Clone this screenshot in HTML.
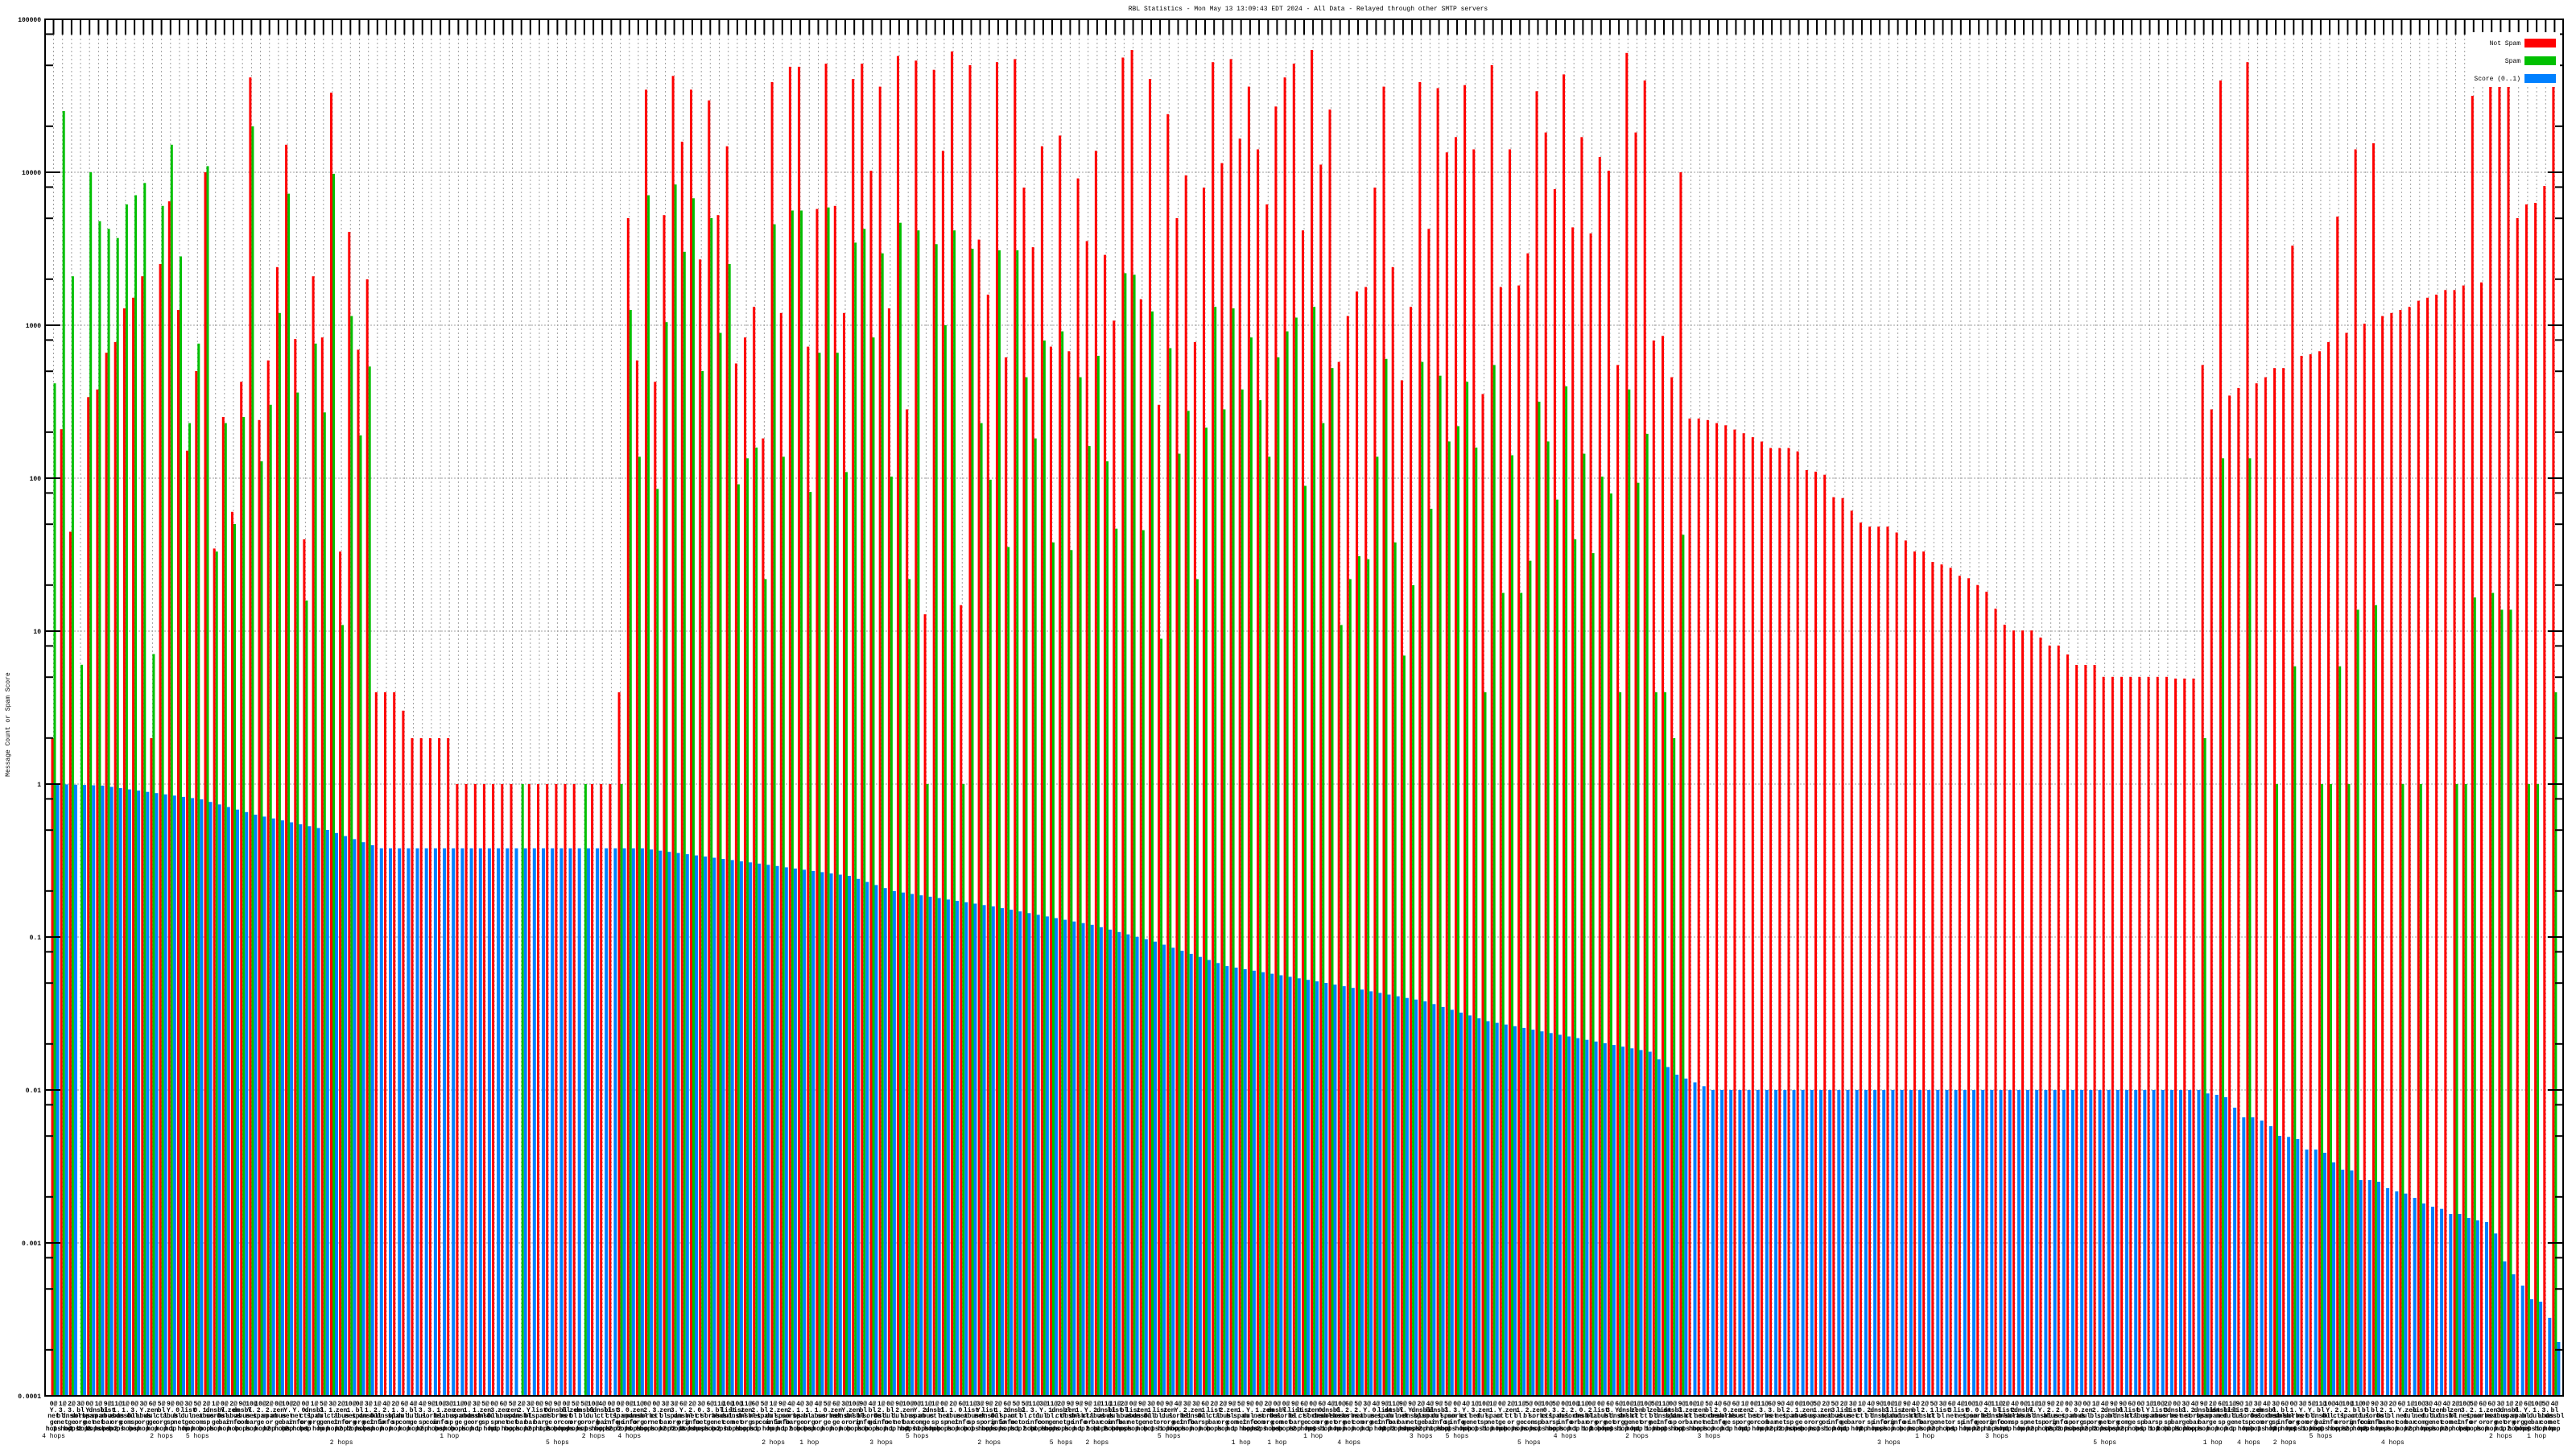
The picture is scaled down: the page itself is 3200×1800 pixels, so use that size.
<!DOCTYPE html>
<html><head><meta charset="utf-8"><style>
html,body{margin:0;padding:0;background:#fff;}
svg{display:block;}
text{font-family:"Liberation Mono","DejaVu Sans Mono",monospace;}
</style></head><body>
<svg id="c" xmlns="http://www.w3.org/2000/svg" width="3200" height="1800" viewBox="0 0 3200 1800">
<rect width="3200" height="1800" fill="#fff"/>
<text x="1625" y="13" font-size="8" text-anchor="middle">RBL Statistics - Mon May 13 13:09:43 EDT 2024 - All Data - Relayed through other SMTP servers</text>
<text transform="translate(12,900) rotate(-90)" font-size="8" text-anchor="middle">Message Count or Spam Score</text>
</svg>
<script>
(function(){
var svg=document.getElementById('c');
var L=56,R=3184,T=24,B=1734,D=190,N=279,C0=66.5,SP=11.176;
function Y(lg){return T+(5-lg)*D;}
var out=[];
for(var k=0;k<=9;k++){var y=T+k*D;out.push('<line x1="'+L+'" x2="'+R+'" y1="'+y+'" y2="'+y+'" stroke="#a0a0a0" stroke-dasharray="2,2"/>');}
for(var i=0;i<N;i++){var x=(C0+SP*i).toFixed(1);out.push('<line x1="'+x+'" x2="'+x+'" y1="'+(T+19)+'" y2="'+B+'" stroke="#a0a0a0" stroke-dasharray="2,3"/>');}
var red=[],grn=[];
var early=[[0.3,2.62],[2.32,4.4],[1.65,3.32],[null,0.78],[2.53,4],[2.58,3.68],[2.82,3.63],[2.89,3.57],[3.11,3.79],[3.18,3.85],[3.32,3.93],[0.3,0.85],[3.4,3.78],[3.81,4.18],[3.1,3.45],[2.18,2.36],[2.7,2.88],[4,4.04],[1.54,1.52],[2.4,2.36],[1.78,1.7],[2.63,2.4],[4.62,4.3],[2.38,2.11],[2.77,2.48],[3.38,3.08],[4.18,3.86],[2.91,2.56],[1.6,1.2],[3.32,2.88],[2.92,2.43],[4.52,3.99],[1.52,1.04],[3.61,3.06],[2.84,2.28],[3.3,2.73]];
for(i=0;i<36;i++){red[i]=early[i][0];grn[i]=early[i][1];}
for(i=36;i<=38;i++){red[i]=0.6;grn[i]=null;}
red[39]=0.48;grn[39]=null;
for(i=40;i<=44;i++){red[i]=0.3;grn[i]=null;}
for(i=45;i<=62;i++){red[i]=0;grn[i]=null;}
grn[52]=0;red[52]=null;grn[59]=0;red[59]=null;
red[63]=0.6;grn[63]=0;red[64]=3.7;grn[64]=3.1;red[65]=2.77;grn[65]=2.14;
var mid=[[4.54,3.85],[2.63,1.93],[3.72,3.02],[4.63,3.92],[4.2,3.48],[4.54,3.83],[3.43,2.7],[4.47,3.7],[3.72,2.95],[4.17,3.4],[2.75,1.96],[2.92,2.13],[3.12,2.2],[2.26,1.34],[4.59,3.66],[3.08,2.14],[4.69,3.75],[4.69,3.75],[2.86,1.91],[3.76,2.82],[4.71,3.77],[3.78,2.82],[3.08,2.04],[4.61,3.54],[4.71,3.63],[4.01,2.92],[4.56,3.47],[3.11,2.01],[4.76,3.67],[2.45,1.34],[4.73,3.62],[1.11,0],[4.67,3.53],[4.14,3.0],[4.79,3.62],[1.17,0],[4.7,3.5],[3.56,2.36],[3.2,1.99],[4.72,3.49],[2.79,1.55],[4.74,3.49],[3.9,2.66],[3.51,2.26],[4.17,2.9],[2.86,1.58],[4.24,2.96],[2.83,1.53],[3.96,2.66],[3.55,2.21],[4.14,2.8],[3.46,2.11],[3.03,1.67],[4.75,3.34],[4.8,3.33],[3.17,1.66],[4.61,3.09],[2.48,0.95],[4.38,2.85],[3.7,2.16],[3.98,2.44],
[2.89,1.34],[3.9,2.33],[4.72,3.12],[4.06,2.45],[4.74,3.11],[4.22,2.58],[4.56,2.92],[4.15,2.51],[3.79,2.14],[4.43,2.79],[4.62,2.96],[4.71,3.05],[3.62,1.95],[4.8,3.12],[4.05,2.36],[4.41,2.72],[2.76,1.04],[3.06,1.34],[3.22,1.49],[3.25,1.47],[3.9,2.14],[4.56,2.78],[3.38,1.58],[2.64,0.84],[3.12,1.3],[4.59,2.76],[3.63,1.8],[4.55,2.67],[4.13,2.24],[4.23,2.34],[4.57,2.63],[4.15,2.2],[2.55,0.6],[4.7,2.74],[3.25,1.25],[4.15,2.15],[3.26,1.25],[3.47,1.46],[4.53,2.5],[4.26,2.24],[3.89,1.86],[4.64,2.6],[3.64,1.6],[4.23,2.16],[3.6,1.51],[4.1,2.01],[4.01,1.9],[2.74,0.6],[4.78,2.58],[4.26,1.97],[4.6,2.29],[2.9,0.6],[2.93,0.6],[2.66,0.3],[4.0,1.63]];
for(i=0;i<mid.length;i++){red[66+i]=mid[i][0];grn[66+i]=mid[i][1];}
var desc=[314,314,319,329,336,350,362,375,389,410,410,410,421,482,487,497,570,573,614,653,666,666,666,685,711,747,747,781,789,800,826,834,856,878,933,985,1004,1004,1004,1027,1053,1053,1082,1116,1116,1116,1155,1155,1155,1155,1155,1155,1155,1155,1155,1155,1155];
for(i=0;i<desc.length;i++){red[182+i]=3.021-desc[i]/497.8;grn[182+i]=null;}
var tail=[[0.69,null],[0.69,null],[0.69,null],[2.74,0.3],[2.45,null],[4.6,2.13],[2.54,null],[2.59,null],[4.72,2.13],[2.62,null],[2.66,null],[2.72,0],[2.72,null],[3.52,0.77],[2.8,null],[2.81,null],[2.83,0],[2.89,0],[3.71,0.77],[2.95,0],[4.15,1.14],[3.01,null],[4.19,1.17],[3.06,null],[3.08,null],[3.1,0],[3.12,null],[3.16,0],[3.18,null],[3.2,null],[3.23,null],[3.23,0],[3.26,0],[4.5,1.22],[3.28,null],[4.61,1.25],[4.69,1.14],[4.77,1.14],[3.7,null],[3.79,0],[3.8,0],[3.91,null],[4.67,0.6]];
for(i=0;i<tail.length;i++){red[236+i]=tail[i][0];grn[236+i]=tail[i][1];}
var anc=[[0,0],[5,-0.01],[16,-0.1],[22,-0.2],[30,-0.3],[36,-0.42],[65,-0.42],[78,-0.52],[88,-0.6],[93,-0.7],[104,-0.8],[115,-0.92],[122,-1.03],[130,-1.19],[141,-1.3],[152,-1.42],[159,-1.55],[168,-1.65],[177,-1.75],[180,-1.9],[184,-2],[238,-2]];
var blue=[];
for(i=0;i<=238;i++){for(var a=0;a<anc.length-1;a++){if(i>=anc[a][0]&&i<=anc[a+1][0]){var t=(i-anc[a][0])/(anc[a+1][0]-anc[a][0]);blue[i]=anc[a][1]+t*(anc[a+1][1]-anc[a][1]);break;}}}
var bt=[178,183,192,231,267,267,279,300,336,340,348,387,387,399,435,462,465,501,501,507,531,543,551,567,588,600,608,627,627,642,651,657,700,804,852,894,945,954,1014,1104];
for(i=0;i<bt.length;i++){blue[239+i]=-2-(bt[i]-165)/570;}
for(i=0;i<N;i++){
 var c=C0+SP*i;
 if(red[i]!=null){var y=Y(red[i]);out.push('<rect x="'+(c-3).toFixed(1)+'" y="'+y.toFixed(1)+'" width="3" height="'+(B-y).toFixed(1)+'" fill="#ff0000"/>');}
 if(grn[i]!=null){var y=Y(grn[i]);out.push('<rect x="'+c.toFixed(1)+'" y="'+y.toFixed(1)+'" width="3" height="'+(B-y).toFixed(1)+'" fill="#00c000"/>');}
 if(blue[i]!==undefined){var y=Y(blue[i]);out.push('<rect x="'+(c+3).toFixed(1)+'" y="'+y.toFixed(1)+'" width="4" height="'+(B-y).toFixed(1)+'" fill="#0080ff"/>');}
}
out.push('<rect x="'+L+'" y="'+T+'" width="'+(R-L)+'" height="'+(B-T)+'" fill="none" stroke="#000" stroke-width="2"/>');
for(i=0;i<N;i++){var x=(C0+SP*i).toFixed(1);out.push('<line x1="'+x+'" x2="'+x+'" y1="'+T+'" y2="'+(T+19)+'" stroke="#000" stroke-width="2"/>');}
var lbl=['100000','10000','1000','100','10','1','0.1','0.01','0.001','0.0001'];
for(k=0;k<=9;k++){var y=T+k*D;
 out.push('<line x1="'+L+'" x2="'+(L+19)+'" y1="'+y+'" y2="'+y+'" stroke="#000" stroke-width="2"/>');
 out.push('<line x1="'+(R-19)+'" x2="'+R+'" y1="'+y+'" y2="'+y+'" stroke="#000" stroke-width="2"/>');
 out.push('<text x="51" y="'+(y+3)+'" font-size="8" font-weight="bold" text-anchor="end">'+lbl[k]+'</text>');
 if(k<9){[8,5,2].forEach(function(m){var yy=T+(k+1)*D-Math.log10(m)*D;
  out.push('<line x1="'+L+'" x2="'+(L+10)+'" y1="'+yy+'" y2="'+yy+'" stroke="#000" stroke-width="2"/>');
  out.push('<line x1="'+(R-10)+'" x2="'+R+'" y1="'+yy+'" y2="'+yy+'" stroke="#000" stroke-width="2"/>');});}
}
out.push('<rect x="3066" y="40" width="114" height="68" fill="#fff"/>');
var lg=[['Not Spam','#ff0000',48],['Spam','#00c000',70],['Score (0..1)','#0080ff',92]];
lg.forEach(function(l){out.push('<text x="3131" y="'+(l[2]+8)+'" font-size="8" text-anchor="end">'+l[0]+'</text><rect x="3136" y="'+l[2]+'" width="39" height="11" fill="'+l[1]+'"/>');});
var rows=[['9@','2@','3@','4@','0@','1@','5@','6@','11@','10@'],['zen','bl','2.','Y.','1.','3.','list','dnsbl','0.'],['spam','dnsbl','ctl','sorbs','bl.','abus','dul.','net'],['org','net','com','or','bar','sp','info','ge'],['hop','hops','1 hop','2 hops','hop']];
var ry=[1746,1754,1761,1769,1777];
var s=7;function rnd(){s=(s*9301+49297)%233280;return s/233280;}
for(var r=0;r<rows.length;r++){for(i=0;i<N;i++){var w=rows[r][Math.floor(rnd()*rows[r].length)];
 out.push('<text x="'+(C0+SP*i).toFixed(1)+'" y="'+ry[r]+'" font-size="8" font-weight="bold" text-anchor="middle">'+w+'</text>');}}
for(i=0;i<N;i+=4){if(rnd()<0.55){var w=['2 hops','3 hops','1 hop','5 hops','4 hops'][Math.floor(rnd()*5)];
 out.push('<text x="'+(C0+SP*i).toFixed(1)+'" y="'+(rnd()<0.6?1786:1794)+'" font-size="8" text-anchor="middle">'+w+'</text>');}}
svg.insertAdjacentHTML('beforeend',out.join(''));
})();
</script>
</body></html>
